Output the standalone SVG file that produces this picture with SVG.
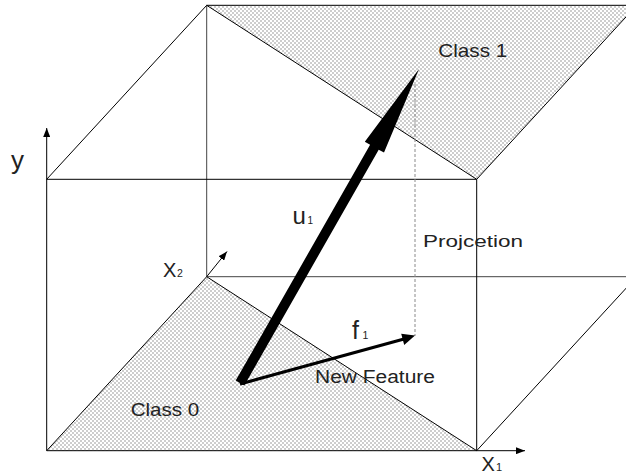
<svg xmlns="http://www.w3.org/2000/svg" width="626" height="476" viewBox="0 0 626 476">
<defs>
<pattern id="chk" width="4" height="4" patternUnits="userSpaceOnUse">
<rect width="4" height="4" fill="#ffffff"/>
<rect width="2" height="2" fill="#cdcdcd"/>
<rect x="2" y="2" width="2" height="2" fill="#cdcdcd"/>
</pattern>
<marker id="ah" markerUnits="userSpaceOnUse" markerWidth="9" markerHeight="7" refX="9" refY="3.5" orient="auto">
<path d="M0,0 L9,3.5 L0,7 z" fill="#000"/>
</marker>
</defs>
<style>
.ln{stroke:#000;stroke-width:1;fill:none}
.bk{stroke:#444;stroke-width:1;fill:none}
.ax{stroke:#000;stroke-width:1;fill:none;marker-end:url(#ah)}
.t{font-family:"Liberation Sans",Arial,sans-serif;fill:#222}
</style>
<rect width="626" height="476" fill="#fff"/>
<g id="regions">
<polygon id="class1-region" points="206.7,5.3 636.7,5.3 476.7,179.3" fill="url(#chk)"/>
<polygon id="class0-region" points="46.7,450.7 206.7,276.7 476.7,450.7" fill="url(#chk)"/>
</g>
<g id="connectors">
<line class="bk" x1="206.7" y1="5.3" x2="206.7" y2="276.7"/>
<line class="bk" x1="206.7" y1="276.7" x2="636.7" y2="276.7"/>
<line class="ln" x1="206.7" y1="5.3" x2="636.7" y2="5.3"/>
<line class="ln" x1="46.7" y1="179.3" x2="206.7" y2="5.3"/>
<line class="ln" x1="206.7" y1="5.3" x2="476.7" y2="179.3"/>
<line class="ln" x1="476.7" y1="179.3" x2="636.7" y2="5.3"/>
<line class="ln" x1="46.7" y1="179.3" x2="476.7" y2="179.3"/>
<line class="ln" x1="476.7" y1="179.3" x2="476.7" y2="450.7"/>
<line class="ln" x1="46.7" y1="450.7" x2="206.7" y2="276.7"/>
<line class="ln" x1="206.7" y1="276.7" x2="476.7" y2="450.7"/>
<line class="ln" x1="476.7" y1="450.7" x2="636.7" y2="276.7"/>
<line id="axis-y" class="ax" x1="46.7" y1="450.7" x2="46.7" y2="128"/>
<line id="axis-x1" class="ax" x1="46.7" y1="450.7" x2="525" y2="450.7"/>
<line id="axis-x2" class="ax" x1="206.7" y1="276.7" x2="227" y2="251.5"/>
<line id="projection" x1="415" y1="84" x2="415" y2="336" stroke="#8a8a8a" stroke-width="1" stroke-dasharray="3,2"/>
<g id="f1-arrow">
<line x1="240" y1="384" x2="404" y2="339" stroke="#000" stroke-width="3"/>
<polygon points="415,335.5 401.2,333.8 404.2,345" fill="#000"/>
</g>
<polygon id="u1-arrow" points="244.3,385.5 378.7,149.7 384,152.6 419,69 364.8,141.8 370.1,144.7 235.7,380.5" fill="#000"/>
</g>
<g id="labels">
<text id="lbl-class1" class="t" x="438.3" y="57.3" font-size="19" textLength="69" lengthAdjust="spacingAndGlyphs">Class  1</text>
<text id="lbl-class0" class="t" x="130.7" y="415.7" font-size="19" textLength="68.6" lengthAdjust="spacingAndGlyphs">Class 0</text>
<text id="lbl-y" class="t" x="11" y="169" font-size="26">y</text>
<text id="lbl-u1" class="t" x="292.5" y="224.3" font-size="24">u<tspan x="307.5" font-size="10">1</tspan></text>
<text id="lbl-proj" class="t" x="423" y="247.3" font-size="17" textLength="100" lengthAdjust="spacingAndGlyphs">Projcetion</text>
<text id="lbl-x2" class="t" x="163" y="276.7" font-size="20">X<tspan x="177" font-size="10.5">2</tspan></text>
<text id="lbl-f1" class="t" x="352" y="339.3" font-size="25">f<tspan x="362.5" font-size="10.5">1</tspan></text>
<text id="lbl-newfeat" class="t" x="315" y="382.7" font-size="17.5" textLength="120" lengthAdjust="spacingAndGlyphs">New Feature</text>
<text id="lbl-x1" class="t" x="481.5" y="470.7" font-size="20">X<tspan x="496" font-size="11">1</tspan></text>
</g>
</svg>
